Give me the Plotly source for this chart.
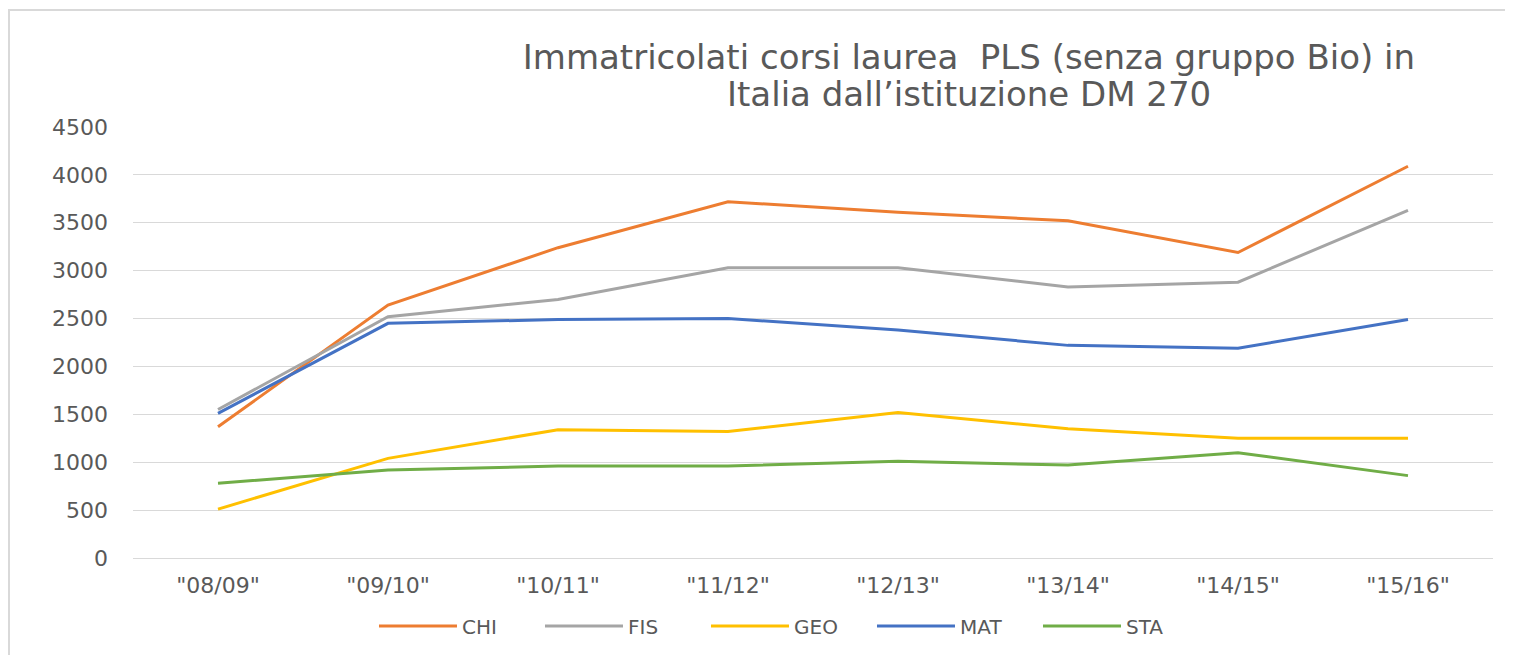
import plotly.graph_objects as go

categories = ['"08/09"', '"09/10"', '"10/11"', '"11/12"', '"12/13"', '"13/14"', '"14/15"', '"15/16"']
chi = [1370, 2640, 3240, 3720, 3610, 3520, 3190, 4090]
fis = [1550, 2520, 2700, 3030, 3030, 2830, 2880, 3630]
geo = [510, 1040, 1340, 1320, 1520, 1350, 1250, 1250]
mat = [1510, 2450, 2490, 2500, 2380, 2220, 2190, 2490]
sta = [780, 920, 960, 960, 1010, 970, 1100, 860]

title_line1 = "Immatricolati corsi laurea  PLS (senza gruppo Bio) in"
title_line2 = "Italia dall\u2019istituzione DM 270"

series = [("CHI", chi, "#ED7D31"), ("FIS", fis, "#A5A5A5"), ("GEO", geo, "#FFC000"),
          ("MAT", mat, "#4472C4"), ("STA", sta, "#70AD47")]

fig = go.Figure()
for name, vals, col in series:
    fig.add_trace(go.Scatter(x=categories, y=vals, mode="lines", name=name,
                             line=dict(color=col, width=3)))

tickfont = dict(family="DejaVu Sans", size=22, color="#595959")
titlefont = dict(family="DejaVu Sans", size=34, color="#595959")
fig.update_layout(
    width=1505, height=647,
    paper_bgcolor="white", plot_bgcolor="white",
    margin=dict(l=125, r=20, t=119, b=97, autoexpand=False),
    title=dict(text=title_line1, x=0.6385, xanchor="center", xref="container",
               y=0.9243, yanchor="middle", yref="container", font=titlefont),
    xaxis=dict(showgrid=False, showline=False, ticks="", tickfont=tickfont, ticklabelstandoff=12,
               range=[-0.5, 7.5]),
    yaxis=dict(range=[0, 4500], dtick=500, gridcolor="#D9D9D9", gridwidth=1, zeroline=True,
               zerolinecolor="#D9D9D9", zerolinewidth=1, showline=False, tickfont=tickfont,
               ticklabelstandoff=24),
    legend=dict(orientation="h", x=0.1772, xanchor="left", y=-0.158, yanchor="middle",
                entrywidth=73, entrywidthmode="pixels", itemwidth=78,
                font=dict(family="DejaVu Sans", size=20, color="#595959")),
    showlegend=True,
)
fig.add_annotation(text=title_line2, xref="paper", yref="paper", x=0.6147, y=1.0766,
                   xanchor="center", yanchor="middle", showarrow=False, font=titlefont)
fig.add_shape(type="rect", xref="paper", yref="paper", x0=-124/1360, x1=1.2, y0=-0.5, y1=1 + 117/431,
              line=dict(color="#D9D9D9", width=2), fillcolor="rgba(0,0,0,0)", layer="below")
fig.write_html("out.html")
